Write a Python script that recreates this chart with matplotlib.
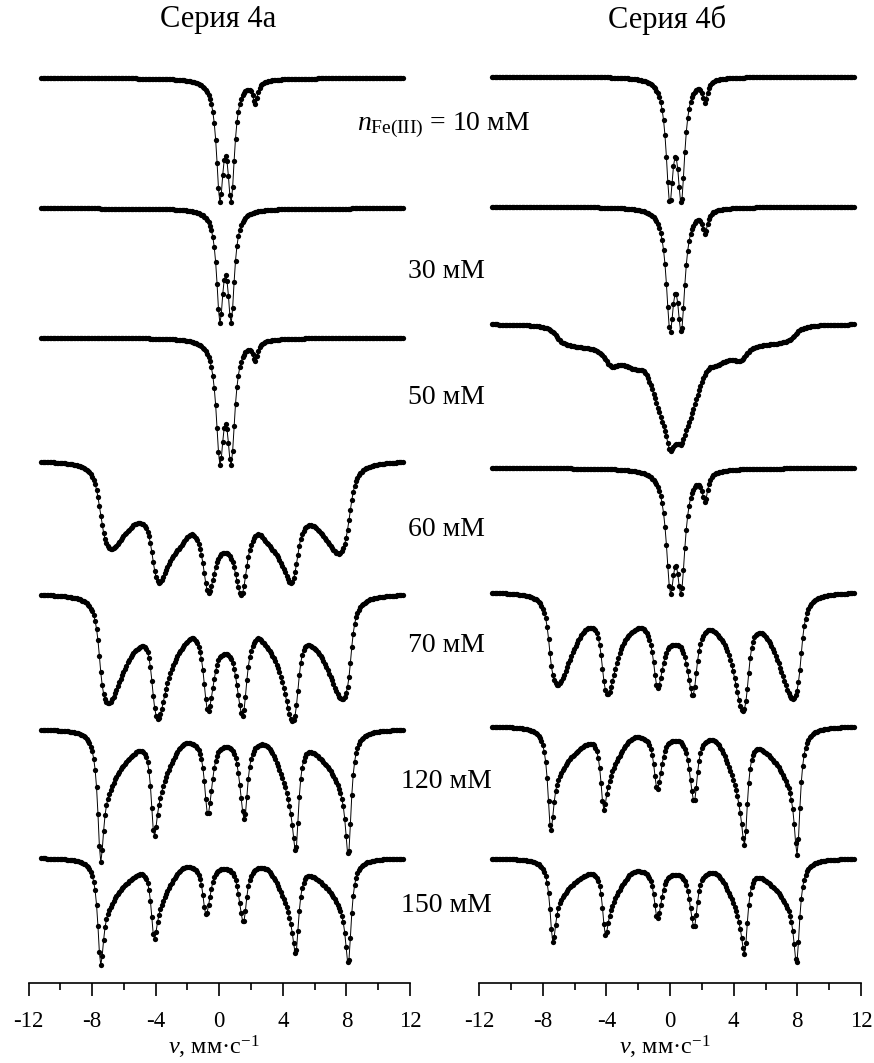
import numpy as np
import matplotlib.pyplot as plt

plt.rcParams['font.family'] = ['Liberation Serif', 'DejaVu Serif']
plt.rcParams['mathtext.fontset'] = 'custom'
plt.rcParams['mathtext.rm'] = 'Liberation Serif'
plt.rcParams['mathtext.it'] = 'Liberation Serif:italic'
plt.rcParams['axes.unicode_minus'] = False

W, H = 874, 1063

# velocity channels, mm/s
v = np.linspace(-11.2, 11.55, 256)

conc = ['10', '30', '50', '60', '70', '120', '150']

# half splittings (mm/s) of the hyperfine field distribution
hf_split = [7.8, 7.6, 7.4, 7.2, 7.0, 6.8, 6.6, 6.4, 6.2, 6.0,
            5.8, 5.6, 5.4, 5.2, 5.0, 4.8, 4.6, 4.4, 4.2, 4.0]
p_sharp = [99, 18, 17, 16, 14, 12, 10, 9, 8, 6.5, 5.5, 4.5, 3, 2, 1.5, 1, 0, 0, 0, 0]
p_60 = [12, 17, 18, 17, 16, 15, 13, 12, 11, 10, 9, 8, 7.5, 7, 6.5, 6, 5, 4, 3, 2]
p_70a = [26, 25, 25, 23, 21, 18, 16, 14, 12.5, 10.5, 9.5, 9, 8, 7, 6, 5, 4.5, 4, 3.5, 3]
p_70b = [22, 21, 21, 19, 17, 14, 12, 10, 8.5, 7, 6, 5, 4.5, 4, 3.5, 3, 2.5, 2, 1.5, 1]
p_50b = [0, 0] + [1] * 18

# lines: (position mm/s, depth, half width); gauss: (position, depth, sigma)
# sextets: distribution p, line weights w, isomer shift, quadrupole shift, width g, line corrections dv
s4a_10 = dict(lines=[(0.04, 111, 0.26), (0.75, 111, 0.26), (2.26, 21, 0.18)])
s4a_30 = dict(lines=[(0.04, 104, 0.245), (0.75, 104, 0.245)])
s4a_50 = dict(lines=[(0.04, 112, 0.28), (0.75, 112, 0.28), (2.26, 18, 0.18)])
s4a_60 = dict(gauss=[(0.36, 76.9, 2.5)], p=p_60, shift=0.36, quad=0.0, g=0.3,
              w=[1.387, 0.931, 0.338, 0.352, 0.919, 1.464])
s4a_70 = dict(gauss=[(0.38, 46.2, 2.0)], p=p_70a, shift=0.38, quad=0.0, g=0.25,
              w=[1.46, 0.921, 0.364, 0.387, 0.953, 1.403])
s4a_120 = dict(gauss=[(0.35, 9.6, 3.0)], p=p_sharp, shift=0.38, quad=-0.05, g=0.22,
               w=[1.121, 0.752, 0.385, 0.411, 0.863, 1.068], dv=[0, -0.03, 0.03, -0.03, -0.11, 0])
s4a_150 = dict(gauss=[(0.35, 5.3, 3.0)], p=p_sharp, shift=0.38, quad=-0.05, g=0.22,
               w=[0.906, 0.574, 0.261, 0.3, 0.683, 0.894], dv=[0, -0.03, -0.08, -0.09, -0.11, 0])

s4b_10 = dict(lines=[(-0.02, 113, 0.27), (0.71, 113, 0.27), (2.2, 21, 0.18)])
s4b_30 = dict(lines=[(0.0, 110, 0.285), (0.71, 110, 0.285), (2.2, 22, 0.18)])
s4b_50 = dict(lines=[(0.0, 14.9, 0.2), (0.73, 7.1, 0.2)], gauss=[(0.37, 112.2, 1.3)],
              p=p_50b, shift=0.37, quad=0.0, g=0.4,
              w=[3.986, 3.928, 0.115, 0.115, 3.404, 3.469])
s4b_60 = dict(lines=[(0.02, 107, 0.31), (0.7, 107, 0.31), (2.2, 28, 0.2)])
s4b_70 = dict(gauss=[(0.33, 42.4, 2.0)], p=p_70b, shift=0.33, quad=0.0, g=0.25,
              w=[1.502, 0.989, 0.367, 0.416, 1.165, 1.728])
s4b_120 = dict(gauss=[(0.32, 7.8, 3.0)], p=p_sharp, shift=0.32, quad=-0.06, g=0.22,
               w=[0.886, 0.583, 0.281, 0.343, 0.838, 1.082], dv=[0.04, -0.05, 0, -0.04, -0.19, -0.06])
s4b_150 = dict(gauss=[(0.32, 10.5, 3.0)], p=p_sharp, shift=0.36, quad=-0.06, g=0.22, scale=0.983,
               w=[0.705, 0.526, 0.253, 0.296, 0.662, 0.882], dv=[0, -0.06, -0.05, -0.06, -0.15, 0])

series_a = [s4a_10, s4a_30, s4a_50, s4a_60, s4a_70, s4a_120, s4a_150]
series_b = [s4b_10, s4b_30, s4b_50, s4b_60, s4b_70, s4b_120, s4b_150]

# vertical offsets of the stacked spectra (a.u.)
offs_a = [905, 774.7, 645.3, 522.7, 389.5, 254.2, 125.4]
offs_b = [906.5, 776.3, 659.2, 515, 391.3, 257.1, 124.9]

POS = [-1.0, -0.5789, -0.1578, 0.1578, 0.5789, 1.0]
QS = [1, -1, -1, -1, -1, 1]


def lorentz(x, c, a, g):
    return a * g**2 / ((x - c)**2 + g**2)


def absorption(spec):
    s = np.zeros_like(v)
    for c, a, g in spec.get('lines', []):
        s += lorentz(v, c, a, g)
    for c, a, sig in spec.get('gauss', []):
        s += a * np.exp(-(v - c)**2 / (2 * sig**2))
    if 'p' in spec:
        k_s = spec.get('scale', 1.0)
        dv = spec.get('dv', [0] * 6)
        for split, a in zip(hf_split, spec['p']):
            if a == 0:
                continue
            for k in range(6):
                c = spec['shift'] + k_s * split * POS[k] + spec['quad'] * QS[k] + dv[k]
                s += lorentz(v, c, a * spec['w'][k], spec['g'])
    return s


fig = plt.figure(figsize=(W / 100, H / 100), dpi=100)
ax_a = fig.add_axes([28.5 / W, 80 / H, 381.5 / W, 943 / H])
ax_b = fig.add_axes([479 / W, 80 / H, 382 / W, 943 / H])

for ax, specs, offs in [(ax_a, series_a, offs_a), (ax_b, series_b, offs_b)]:
    for spec, off in zip(specs, offs):
        ax.plot(v, off - absorption(spec), '-o', color='k', lw=0.7, ms=3.8, mew=0)
    ax.set_xlim(-12, 12)
    ax.set_ylim(0, 943)
    for side in ['left', 'right', 'top']:
        ax.spines[side].set_visible(False)
    ax.spines['bottom'].set_linewidth(1.2)
    ax.set_xticks(np.arange(-12, 13, 4))
    ax.set_xticks(np.arange(-12, 13, 2), minor=True)
    ax.tick_params(axis='x', which='major', direction='out', length=9, width=1.2,
                   labelsize=16.5, pad=11)
    ax.tick_params(axis='x', which='minor', direction='out', length=5, width=1.2)
    ax.set_yticks([])
    ax.patch.set_alpha(0)


def ftext(x, y, s, va='center', **kw):
    fig.text(x / W, 1 - y / H, s, ha='center', va=va, **kw)


ftext(218, 20, 'Серия 4а', fontsize=22)
ftext(667, 20, 'Серия 4б', fontsize=22)
ftext(214, 1047, '$v$, мм·с$^{-1}$', fontsize=17.5)
ftext(665, 1047, '$v$, мм·с$^{-1}$', fontsize=17.5)

label_y = [125, 271, 397, 529, 646, 782, 906]
for c, y in zip(conc, label_y):
    if c == '10':
        ftext(444, y, r'$n_{\mathrm{Fe(III)}}$ = ' + c + ' мМ', fontsize=20)
    else:
        ftext(446, y, c + ' мМ', fontsize=20)

fig.savefig('out.png', dpi=100)
